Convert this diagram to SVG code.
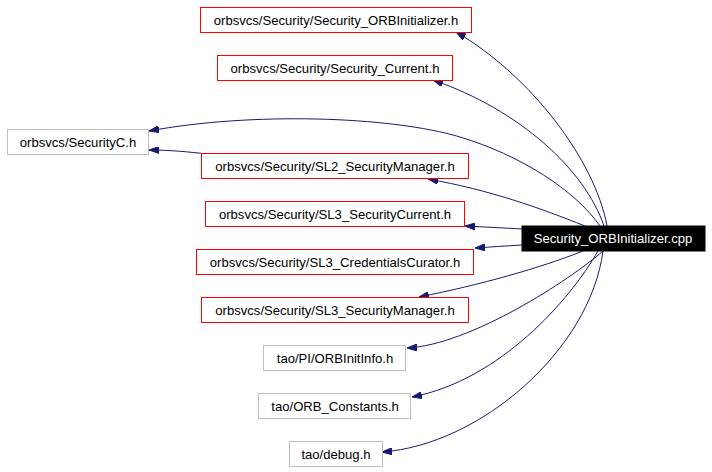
<svg xmlns="http://www.w3.org/2000/svg" width="712" height="472" viewBox="0 0 712 472">
<style>
  .n rect { fill: #ffffff; stroke-width: 1; }
  .red rect { stroke: #ff0000; }
  .grey rect { stroke: #bfbfbf; }
  .root rect { fill: #000000; stroke: #000000; }
  text { font-family: "Liberation Sans", Arial, Helvetica, sans-serif; font-size: 13.1px; text-anchor: middle; fill: #000000; }
  .root text { fill: #ffffff; }
  .e path { fill: none; stroke: #191970; stroke-width: 1; marker-end: url(#ah); }
</style>
<defs>
  <marker id="ah" viewBox="0 0 10 7" markerWidth="10" markerHeight="7" refX="10" refY="3.5" orient="auto" markerUnits="userSpaceOnUse">
    <path d="M0,0 L10,3.5 L0,7 Z" fill="#191970" stroke="#191970" stroke-width="1"/>
  </marker>
</defs>
<rect x="0" y="0" width="712" height="472" fill="#ffffff"/>
<g id="edges" class="e">
  <path d="M607,226 C595,160 530,75 456,32"/>
  <path d="M604,226 C585,170 520,110 433,80"/>
  <path d="M600,226 C575,190 520,155 460,137 C390,116 250,112 149,131"/>
  <path d="M207,154 C190,152 170,150 149,150"/>
  <path d="M585,226 C540,208 490,190 428,179"/>
  <path d="M522,229 C505,228 485,227 465,226"/>
  <path d="M522,245 C505,246 490,247 475,248"/>
  <path d="M583,251 C540,268 480,285 419,297"/>
  <path d="M603,251 C570,280 470,345 407,348"/>
  <path d="M598,251 C570,300 500,380 412,397"/>
  <path d="M603,251 C590,350 480,445 382,452"/>
</g>
<g id="node_cpp" class="n root">
  <rect x="522" y="226" width="183" height="25"/>
  <text x="613" y="243">Security_ORBInitializer.cpp</text>
</g>
<g id="node_security_orbinitializer_h" class="n red">
  <rect x="200.5" y="7.5" width="271" height="25"/>
  <text x="336" y="24.5">orbsvcs/Security/Security_ORBInitializer.h</text>
</g>
<g id="node_security_current_h" class="n red">
  <rect x="217.5" y="55.5" width="235" height="25"/>
  <text x="335" y="72.5">orbsvcs/Security/Security_Current.h</text>
</g>
<g id="node_securityc_h" class="n grey">
  <rect x="7.5" y="129.5" width="141" height="25"/>
  <text x="78" y="146.5">orbsvcs/SecurityC.h</text>
</g>
<g id="node_sl2_securitymanager_h" class="n red">
  <rect x="201.5" y="153.5" width="267" height="25"/>
  <text x="335" y="170.5">orbsvcs/Security/SL2_SecurityManager.h</text>
</g>
<g id="node_sl3_securitycurrent_h" class="n red">
  <rect x="205.5" y="201.5" width="259" height="25"/>
  <text x="335" y="218.5">orbsvcs/Security/SL3_SecurityCurrent.h</text>
</g>
<g id="node_sl3_credentialscurator_h" class="n red">
  <rect x="196.5" y="249.5" width="277" height="25"/>
  <text x="335" y="266.5">orbsvcs/Security/SL3_CredentialsCurator.h</text>
</g>
<g id="node_sl3_securitymanager_h" class="n red">
  <rect x="201.5" y="297.5" width="267" height="25"/>
  <text x="335" y="314.5">orbsvcs/Security/SL3_SecurityManager.h</text>
</g>
<g id="node_orbinitinfo_h" class="n grey">
  <rect x="263.5" y="345.5" width="142" height="25"/>
  <text x="335" y="362.5">tao/PI/ORBInitInfo.h</text>
</g>
<g id="node_orb_constants_h" class="n grey">
  <rect x="258.5" y="393.5" width="152" height="25"/>
  <text x="335" y="410.5">tao/ORB_Constants.h</text>
</g>
<g id="node_debug_h" class="n grey">
  <rect x="289.5" y="441.5" width="93" height="25"/>
  <text x="336" y="458.5">tao/debug.h</text>
</g>
</svg>
